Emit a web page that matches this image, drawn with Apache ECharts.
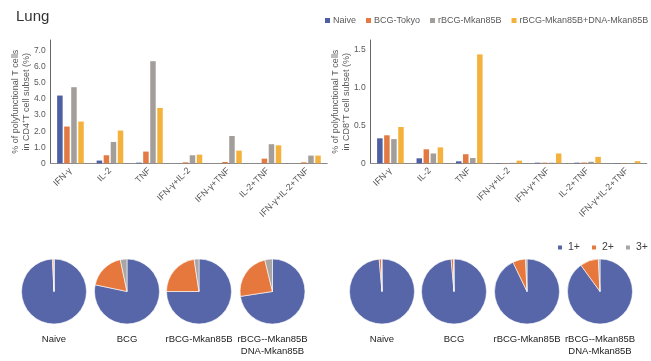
<!DOCTYPE html>
<html>
<head>
<meta charset="utf-8">
<script src="https://cdn.jsdelivr.net/npm/echarts@6/dist/echarts.min.js"></script>
<style>html,body{margin:0;padding:0;background:#fff;}#c{width:651px;height:361px;}</style>
</head>
<body>
<div id="c"></div>
<script>
var categories = ['IFN-γ', 'IL-2', 'TNF', 'IFN-γ+IL-2', 'IFN-γ+TNF', 'IL-2+TNF', 'IFN-γ+IL-2+TNF'];
var groupNames = ['Naive', 'BCG-Tokyo', 'rBCG-Mkan85B', 'rBCG-Mkan85B+DNA-Mkan85B'];
// CD4+ values (%)
var cd4Naive = [4.22, 0.17, 0.04, 0, 0, 0, 0];
var cd4BCG = [2.29, 0.50, 0.73, 0.06, 0.08, 0.29, 0.06];
var cd4rBCG = [4.74, 1.33, 6.36, 0.50, 1.70, 1.19, 0.48];
var cd4DNA = [2.60, 2.04, 3.45, 0.54, 0.79, 1.12, 0.48];
// CD8+ values (%)
var cd8Naive = [0.33, 0.066, 0.026, 0.004, 0.008, 0.008, 0.004];
var cd8BCG = [0.37, 0.185, 0.12, 0.004, 0.008, 0.01, 0.004];
var cd8rBCG = [0.32, 0.13, 0.07, 0.006, 0.008, 0.02, 0.004];
var cd8DNA = [0.48, 0.21, 1.44, 0.035, 0.13, 0.085, 0.028];
// pie data: fraction of 1+, 2+, 3+ (%)
var pieNames = ['1+', '2+', '3+'];
var pieLabels = ['Naive', 'BCG', 'rBCG-Mkan85B', 'rBCG--Mkan85B\nDNA-Mkan85B'];
var cd4Pies = [[99.2, 0.8, 0.0], [78.3, 18.4, 3.3], [75.0, 22.6, 2.4], [72.6, 23.6, 3.8]];
var cd8Pies = [[98.6, 1.2, 0.2], [98.6, 1.2, 0.2], [92.9, 6.4, 0.7], [90.0, 9.2, 0.8]];
var leftTicks = ['0', '1.0', '2.0', '3.0', '4.0', '5.0', '6.0', '7.0'];
var rightTicks = ['0', '0.5', '1.0', '1.5'];

var barColors = ['#4f5fa3', '#e27a42', '#a39e9a', '#f4b23c'];
var pieColors = ['#5666a8', '#e6783d', '#a9a6a4'];

var chart = echarts.init(document.getElementById('c'), null, {renderer: 'canvas'});

function xAxis(gi) {
  return {
    type: 'category', gridIndex: gi, data: categories,
    axisLine: {lineStyle: {color: '#8a8a8a', width: 1.2}},
    axisTick: {show: false},
    axisLabel: {interval: 0, rotate: 45, fontSize: 9, color: '#595959', margin: 6, fontFamily: 'Liberation Sans'}
  };
}
function yAxis(gi, max, interval, name, ticks) {
  return {
    type: 'value', gridIndex: gi, min: 0, max: max, interval: interval,
    name: name, nameLocation: 'middle', nameGap: 19, nameRotate: 90, nameMoveOverlap: false,
    nameTextStyle: {fontSize: 9, color: '#595959', lineHeight: 11, fontFamily: 'Liberation Sans'},
    splitLine: {show: false},
    axisLine: {show: true, lineStyle: {color: '#666', width: 1}},
    axisTick: {show: false},
    axisLabel: {fontSize: 8.5, color: '#595959', margin: 5, showMaxLabel: false, fontFamily: 'Liberation Sans',
      formatter: function (v) { var i = Math.round(v / interval); return ticks[i] !== undefined ? ticks[i] : ''; }}
  };
}

var series = [];
var cd4 = [cd4Naive, cd4BCG, cd4rBCG, cd4DNA];
var cd8 = [cd8Naive, cd8BCG, cd8rBCG, cd8DNA];
for (var i = 0; i < 4; i++) {
  series.push({name: groupNames[i], type: 'bar', xAxisIndex: 0, yAxisIndex: 0, data: cd4[i],
    barWidth: 5.5, barGap: '28%', itemStyle: {color: barColors[i]}});
  series.push({name: groupNames[i], type: 'bar', xAxisIndex: 1, yAxisIndex: 1, data: cd8[i],
    barWidth: 5.5, barGap: '28%', itemStyle: {color: barColors[i]}});
}
var leftCenters = [54, 127, 199, 272.5];
var rightCenters = [382, 454, 527, 600];
function pieSeries(vals, cx) {
  return {
    type: 'pie', center: [cx, 291.5], radius: 32.5, startAngle: 90, clockwise: true,
    label: {show: false}, labelLine: {show: false}, silent: true, animation: false,
    itemStyle: {borderColor: '#fff', borderWidth: 0.6},
    data: vals.map(function (v, k) { return {name: pieNames[k], value: v, itemStyle: {color: pieColors[k]}}; })
  };
}
var graphics = [];
for (var p = 0; p < 4; p++) {
  series.push(pieSeries(cd4Pies[p], leftCenters[p]));
  series.push(pieSeries(cd8Pies[p], rightCenters[p]));
  [leftCenters[p], rightCenters[p]].forEach(function (cx) {
    graphics.push({type: 'text', x: cx, y: 333,
      style: {text: pieLabels[p], x: 0, y: 0, textAlign: 'center', textVerticalAlign: 'top',
        font: '9.5px "Liberation Sans", Arial, sans-serif', fill: '#222', lineHeight: 12}});
  });
}

chart.setOption({
  animation: false,
  title: {text: 'Lung', left: 11, top: 4, textStyle: {fontSize: 15, fontWeight: 'normal', color: '#333', fontFamily: 'Liberation Sans'}},
  legend: [
    {data: groupNames, left: 325, top: 16, padding: 0, itemWidth: 5, itemHeight: 5, itemGap: 10, icon: 'rect',
      textStyle: {fontSize: 9, color: '#595959', padding: [0, 0, 0, -2], fontFamily: 'Liberation Sans'}},
    {data: pieNames, left: 556, top: 242, padding: 0, itemWidth: 6, itemHeight: 6, itemGap: 10, icon: 'rect',
      textStyle: {fontSize: 10.5, color: '#404040', fontFamily: 'Liberation Sans'}}
  ],
  grid: [
    {left: 50.7, top: 40, width: 276.5, height: 123.3},
    {left: 370.7, top: 40, width: 276, height: 123.3}
  ],
  xAxis: [xAxis(0), xAxis(1)],
  yAxis: [
    yAxis(0, 7.68, 1, '% of polyfunctional T cells\nin CD4⁺T cell subset (%)', leftTicks),
    yAxis(1, 1.63, 0.5, '% of polyfunctional T cells\nin CD8⁺T cell subset (%)', rightTicks)
  ],
  series: series,
  graphic: graphics
});
</script>
</body>
</html>
